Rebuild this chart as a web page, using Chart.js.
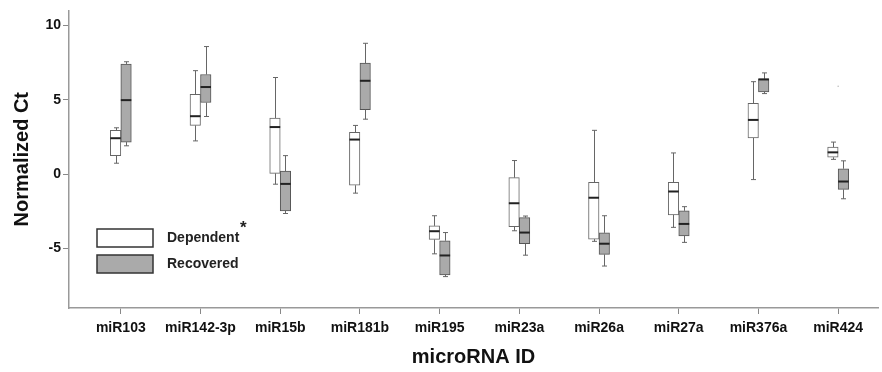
<!DOCTYPE html>
<html lang="en">
<head>
<meta charset="UTF-8">
<title>Normalized Ct by microRNA</title>
<script src="https://cdn.jsdelivr.net/npm/chart.js"></script>
<style>
  html, body { margin: 0; padding: 0; background: #fff; }
  #wrap { width: 882px; height: 372px; }
</style>
</head>
<body>
<div id="wrap"><canvas id="grafica"></canvas></div>
<script>
// categories and y tick labels
const categories = ["miR103", "miR142-3p", "miR15b", "miR181b", "miR195", "miR23a", "miR26a", "miR27a", "miR376a", "miR424"];
const yTicks = [-5, 0, 5, 10];

// Dependent: whisker low, Q1, median, Q3, whisker high
const depLow  = [0.73, 2.23, -0.68, -1.28, -5.36, -3.81, -4.52, -3.58, -0.37, 0.99];
const depQ1   = [1.24, 3.27,  0.05, -0.75, -4.39, -3.53, -4.37, -2.74,  2.43, 1.13];
const depMed  = [2.41, 3.89,  3.16,  2.32, -3.84, -1.96, -1.59, -1.17,  3.64, 1.46];
const depQ3   = [2.94, 5.36,  3.77,  2.81, -3.48, -0.24, -0.55, -0.55,  4.75, 1.81];
const depHigh = [3.11, 6.95,  6.49,  3.27, -2.80,  0.91,  2.94,  1.42,  6.21, 2.15];

// Recovered
const recLow  = [1.90, 3.87, -2.65, 3.69, -6.89, -5.45, -6.18, -4.59, 5.41, -1.66];
const recQ1   = [2.15, 4.81, -2.47, 4.33, -6.77, -4.68, -5.40, -4.15, 5.52, -1.03];
const recMed  = [4.97, 5.85, -0.66, 6.27, -5.47, -3.93, -4.68, -3.35, 6.36, -0.50];
const recQ3   = [7.40, 6.69,  0.20, 7.46, -4.48, -2.93, -3.95, -2.47, 6.40,  0.36];
const recHigh = [7.55, 8.57,  1.24, 8.79, -3.93, -2.82, -2.80, -2.19, 6.80,  0.89];

// the lone faint point above miR424
const outlierX = [9];
const outlierY = [5.9];

const FONT = "Arial, 'Liberation Sans', sans-serif";

const whiskers = [
    { low: depLow, med: depMed, high: depHigh },
    { low: recLow, med: recMed, high: recHigh }
];

// whiskers, caps and medians on top of the floating bars
const boxPlugin = {
    id: 'boxWhiskers',
    afterDatasetsDraw(chart) {
        const ctx = chart.ctx;
        const y = chart.scales.y;
        ctx.save();
        whiskers.forEach((w, d) => {
            const meta = chart.getDatasetMeta(d);
            meta.data.forEach((bar, i) => {
                const x = Math.round(bar.x) + 0.5;
                const half = bar.width / 2;
                const top = Math.min(bar.y, bar.base);
                const bottom = Math.max(bar.y, bar.base);
                const yHigh = y.getPixelForValue(w.high[i]);
                const yLow = y.getPixelForValue(w.low[i]);
                ctx.strokeStyle = '#666';
                ctx.lineWidth = 1;
                ctx.beginPath();
                ctx.moveTo(x, top); ctx.lineTo(x, yHigh);
                ctx.moveTo(x - 2.5, yHigh); ctx.lineTo(x + 2.5, yHigh);
                ctx.moveTo(x, bottom); ctx.lineTo(x, yLow);
                ctx.moveTo(x - 2.5, yLow); ctx.lineTo(x + 2.5, yLow);
                ctx.stroke();
                const yMed = y.getPixelForValue(w.med[i]);
                ctx.strokeStyle = '#222';
                ctx.lineWidth = 2;
                ctx.beginPath();
                ctx.moveTo(bar.x - half, yMed); ctx.lineTo(bar.x + half, yMed);
                ctx.stroke();
            });
        });
        ctx.restore();
    },
    afterDraw(chart) {
        const ctx = chart.ctx;
        ctx.save();
        // legend
        ctx.lineWidth = 1.5;
        ctx.strokeStyle = '#333';
        ctx.fillStyle = '#fff';
        ctx.fillRect(97, 229, 56, 18);
        ctx.strokeRect(97, 229, 56, 18);
        ctx.fillStyle = '#aaa';
        ctx.fillRect(97, 255, 56, 18);
        ctx.strokeRect(97, 255, 56, 18);
        ctx.fillStyle = '#222';
        ctx.font = 'bold 14px ' + FONT;
        ctx.textBaseline = 'middle';
        ctx.fillText('Dependent', 167, 238);
        ctx.fillText('Recovered', 167, 264);
        ctx.font = 'bold 17px ' + FONT;
        ctx.fillText('*', 240, 228);
        ctx.restore();
    }
};

const ctx = document.getElementById('grafica').getContext('2d');
new Chart(ctx, {
    type: 'bar',
    data: {
        datasets: [
            {
                label: 'Dependent',
                data: categories.map((c, i) => ({ x: i, y: [depQ1[i], depQ3[i]] })),
                backgroundColor: '#ffffff',
                borderColor: '#666',
                borderWidth: 1,
                borderSkipped: false,
                barThickness: 10.5
            },
            {
                label: 'Recovered',
                data: categories.map((c, i) => ({ x: i, y: [recQ1[i], recQ3[i]] })),
                backgroundColor: '#aaaaaa',
                borderColor: '#555',
                borderWidth: 1,
                borderSkipped: false,
                barThickness: 10.5
            },
            {
                type: 'scatter',
                label: 'outlier',
                data: outlierX.map((x, i) => ({ x: x, y: outlierY[i] })),
                pointRadius: 0.8,
                pointBackgroundColor: '#bbb',
                pointBorderWidth: 0
            }
        ]
    },
    options: {
        responsive: true,
        maintainAspectRatio: false,
        animation: false,
        layout: { padding: { top: 7, right: 1, left: 0, bottom: 0 } },
        plugins: {
            legend: { display: false },
            tooltip: { enabled: false }
        },
        scales: {
            x: {
                type: 'linear',
                offset: false,
                min: -0.65,
                max: 9.5,
                afterFit(scale) { scale.height = 64; },
                afterBuildTicks(scale) { scale.ticks = categories.map((c, i) => ({ value: i })); },
                grid: { display: true, offset: false, drawOnChartArea: false, drawTicks: true, tickLength: 6, color: '#888' },
                border: { display: true, color: '#999', width: 1.5 },
                ticks: {
                    autoSkip: false,
                    maxRotation: 0,
                    padding: 6,
                    color: '#111',
                    font: { family: FONT, size: 14, weight: 'bold' },
                    callback: (v) => categories[v]
                },
                title: {
                    display: true,
                    text: 'microRNA ID',
                    color: '#111',
                    padding: { top: 4, bottom: 3 },
                    font: { family: FONT, size: 20, weight: 'bold' }
                }
            },
            y: {
                min: -9,
                max: 11,
                afterFit(scale) { scale.width = 69; },
                afterBuildTicks(scale) { scale.ticks = yTicks.map(v => ({ value: v })); },
                grid: { display: true, drawOnChartArea: false, drawTicks: true, tickLength: 6, color: '#888' },
                border: { display: true, color: '#999', width: 1.5 },
                ticks: {
                    padding: 2,
                    color: '#111',
                    font: { family: FONT, size: 14, weight: 'bold' }
                },
                title: {
                    display: true,
                    text: 'Normalized Ct',
                    color: '#111',
                    padding: { top: 10, bottom: 0 },
                    font: { family: FONT, size: 20, weight: 'bold' }
                }
            }
        }
    },
    plugins: [boxPlugin]
});
</script>
</body>
</html>
